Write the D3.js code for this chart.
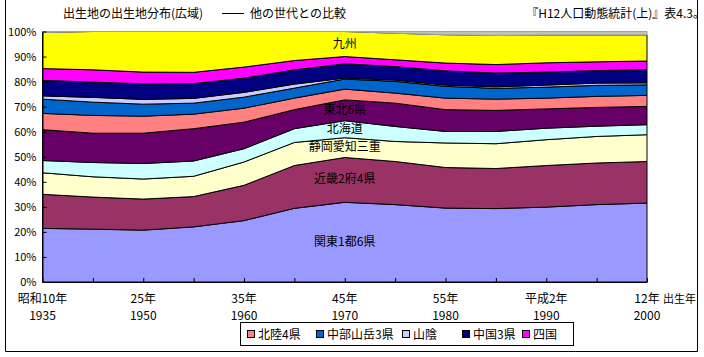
<!DOCTYPE html>
<html><head><meta charset="utf-8">
<script src="https://cdn.jsdelivr.net/npm/d3@7"></script>
<style>
body{margin:0;background:#fff;}
text{font-family:"MS PGothic","Noto Sans CJK JP",sans-serif;}
</style></head>
<body><svg id="c" width="704" height="357"></svg>
<script>
const categories = ["1935","1940","1950","1955","1960","1965","1970","1975","1980","1985","1990","1995","2000"];
const tickLabelsJa = ["昭和10年","","25年","","35年","","45年","","55年","","平成2年","","12年"];
const tickLabelsYear = ["1935","","1950","","1960","","1970","","1980","","1990","","2000"];
const seriesNames = ["関東1都6県","近畿2府4県","静岡愛知三重","北海道","東北6県","北陸4県","中部山岳3県","山陰","中国3県","四国","九州","その他"];
const kanto    = [21.4,21.1,20.7,22.0,24.5,29.4,31.8,30.9,29.5,29.3,29.9,30.9,31.5];
const kinki    = [13.6,12.8,12.4,12.1,14.1,17.1,17.9,17.2,16.2,16.0,16.6,16.6,16.6];
const shizuoka = [8.6,8.1,8.0,8.1,9.3,9.2,7.9,8.0,9.8,9.9,10.3,10.6,10.7];
const hokkaido = [4.9,5.7,6.2,6.1,5.3,5.5,6.8,6.0,4.6,4.9,4.6,4.1,4.0];
const tohoku   = [12.3,11.7,12.1,12.9,10.6,7.6,8.3,9.3,8.7,8.4,7.7,7.5,7.3];
const hokuriku = [6.5,7.1,6.8,5.8,5.6,4.6,4.3,4.0,4.6,4.5,4.3,4.4,4.4];
const chubu    = [5.7,5.3,4.8,4.4,4.4,4.0,4.0,4.7,4.7,4.3,4.4,4.4,4.2];
const sanin    = [1.3,1.9,1.9,1.9,1.9,1.6,0.4,0.5,0.5,0.6,0.8,0.9,0.8];
const chugoku  = [6.2,6.1,6.2,5.9,5.7,5.7,5.7,5.4,5.7,5.5,5.2,5.0,5.3];
const shikoku  = [4.7,4.9,4.7,4.5,4.4,3.7,2.9,2.7,3.1,3.4,3.7,3.5,3.4];
const kyushu   = [14.4,15.3,16.2,16.3,14.2,11.6,10.0,10.6,11.3,11.6,11.1,10.7,10.4];
const other    = [0.4,0,0,0,0,0,0,0.7,1.3,1.6,1.4,1.4,1.4];
const yTicks = [0,10,20,30,40,50,60,70,80,90,100];
const legendNames = ["北陸4県","中部山岳3県","山陰","中国3県","四国"];
const inlineLabels = ["関東1都6県","近畿2府4県","静岡愛知三重","北海道","東北6県","九州"];

const seriesValues = [kanto,kinki,shizuoka,hokkaido,tohoku,hokuriku,chubu,sanin,chugoku,shikoku,kyushu,other];
const colors = ["#9999FF","#993366","#FFFFCC","#CCFFFF","#660066","#FF8080","#0066CC","#CCCCFF","#000080","#FF00FF","#FFFF00","#C0C0C0"];

const rows = categories.map((c,i)=>{const r={cat:c}; seriesNames.forEach((n,k)=>r[n]=seriesValues[k][i]); return r;});
const stack = d3.stack().keys(seriesNames)(rows);

const svg = d3.select("#c");
const L=42.5, R=647, T=31.5, B=282;
const x = d3.scalePoint().domain(categories).range([L,R]);
const y = d3.scaleLinear().domain([0,100]).range([B,T]);

// outer frame
svg.append("path").attr("d",`M5.5,0 V351.5 H697.5 V0`).attr("fill","none").attr("stroke","#000").attr("stroke-width",1);

const area = d3.area().x(d=>x(d.data.cat)).y0(d=>y(d[0])).y1(d=>y(d[1]));
svg.append("g").selectAll("path").data(stack).join("path")
  .attr("d",area)
  .attr("fill",(d,i)=>colors[i])
  .attr("stroke",(d,i)=>i===colors.length-1?"#A0A0A0":"#000")
  .attr("stroke-width",1);

// axes
const ya = d3.axisLeft(y).tickValues(yTicks).tickFormat(d=>d+"%").tickSizeInner(-4).tickSizeOuter(0).tickPadding(6);
svg.append("g").attr("transform",`translate(${L},0)`).call(ya)
  .call(g=>g.selectAll("text").attr("font-size",11).attr("fill","#000"))
  .call(g=>g.selectAll("line,path").attr("stroke","#000"));
const xa = d3.axisBottom(x).tickFormat("").tickSizeInner(-4).tickSizeOuter(0);
svg.append("g").attr("transform",`translate(0,${B})`).call(xa)
  .call(g=>g.selectAll("line,path").attr("stroke","#000"));

const lab = svg.append("g").attr("font-size",12).attr("text-anchor","middle");
categories.forEach((c,i)=>{
  if(tickLabelsJa[i]) lab.append("text").attr("x",x(c)).attr("y",303).text(tickLabelsJa[i]);
  if(tickLabelsYear[i]) lab.append("text").attr("x",x(c)).attr("y",320).text(tickLabelsYear[i]);
});
svg.append("text").attr("x",663).attr("y",303).attr("font-size",11).text("出生年");

// inline labels at 1970
const labCat = "1970";
const idx = categories.indexOf(labCat);
inlineLabels.forEach(n=>{
  const s = stack.find(t=>t.key===n);
  const v = s[idx];
  svg.append("text").attr("x",x(labCat)).attr("y",y((v[0]+v[1])/2)+3.5)
    .attr("text-anchor","middle").attr("font-size",12).attr("fill","#000").text(n);
});

// titles
svg.append("text").attr("x",63).attr("y",18).attr("font-size",12).text("出生地の出生地分布(広域)");
svg.append("line").attr("x1",222).attr("x2",244).attr("y1",13.5).attr("y2",13.5).attr("stroke","#000");
svg.append("text").attr("x",250).attr("y",18).attr("font-size",12).text("他の世代との比較");
svg.append("text").attr("x",705).attr("y",18).attr("text-anchor","end").attr("font-size",12).text("『H12人口動態統計(上)』表4.3。");

// legend
const lg = svg.append("g");
lg.append("rect").attr("x",240.5).attr("y",322.5).attr("width",333).attr("height",23).attr("fill","#fff").attr("stroke","#000");
const legX = [247,316,402,462,522];
legendNames.forEach((n,i)=>{
  const k = seriesNames.indexOf(n);
  lg.append("rect").attr("x",legX[i]+0.5).attr("y",330.5).attr("width",7).attr("height",7).attr("fill",colors[k]).attr("stroke","#000");
  lg.append("text").attr("x",legX[i]+11).attr("y",338.5).attr("font-size",12).text(n);
});
</script></body></html>
